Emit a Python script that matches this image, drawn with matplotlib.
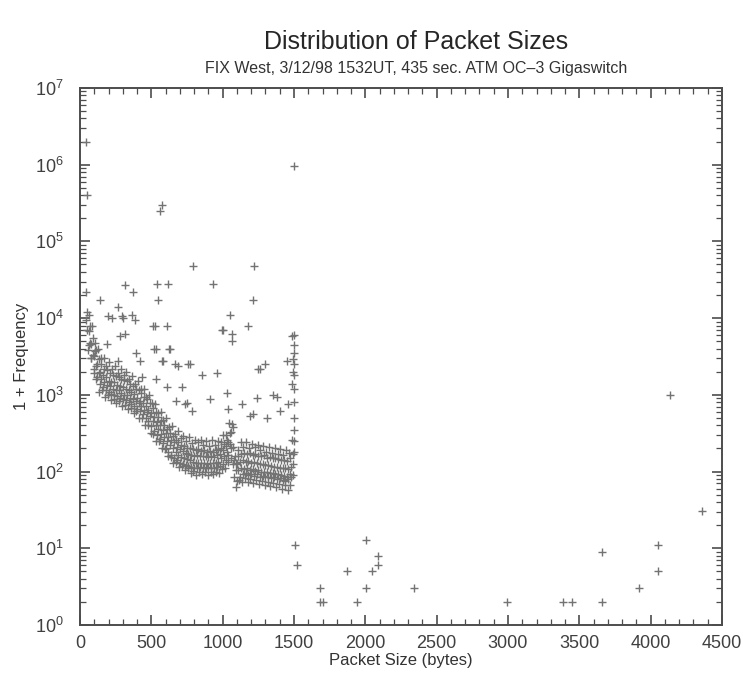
import numpy as np
import matplotlib
matplotlib.use('Agg')
import matplotlib.pyplot as plt
from matplotlib.ticker import LogLocator, MultipleLocator, LogFormatterMathtext

plt.rcParams['font.family'] = ['Liberation Sans', 'DejaVu Sans']
plt.rcParams['mathtext.fontset'] = 'custom'
plt.rcParams['mathtext.rm'] = 'Liberation Sans'

band_sizes = list(range(40, 1500, 10))
band_mid = [9500, 7000, 6800, 4800, 4600, 3300, 3200, 2400, 2500, 1900,
            2000, 1600, 1800, 1450, 1700, 1350, 1500, 1300, 1450, 1200,
            1450, 1150, 1350, 1150, 1300, 1050, 1250, 1000, 1200, 980,
            1150, 920, 1100, 880, 1020, 830, 920, 780, 840, 720,
            780, 640, 720, 590, 640, 530, 580, 450, 520, 410,
            440, 360, 410, 310, 350, 280, 320, 250, 280, 220,
            260, 200, 240, 180, 210, 165, 195, 155, 185, 150,
            175, 145, 170, 140, 165, 135, 160, 130, 165, 130,
            160, 128, 158, 130, 160, 125, 155, 130, 160, 128,
            155, 130, 162, 135, 170, 150, 190, 160, 215, 180,
            240, 230, 330, 210, 85, 105, 125, 105, 135, 110,
            140, 108, 135, 112, 138, 105, 130, 108, 135, 102,
            128, 104, 125, 100, 126, 98, 122, 100, 120, 95,
            118, 96, 116, 92, 115, 94, 112, 90, 110, 88,
            110, 86, 108, 92, 115, 125]

umid_sizes = list(range(50, 1500, 20))
band_umid = [12000, 8000, 5500, 3800, 2900, 2500, 2200, 2100, 1900, 1800,
             1750, 1700, 1600, 1550, 1500, 1400, 1300, 1200, 1150, 1050,
             950, 880, 780, 680, 600, 520, 460, 400, 360, 320,
             290, 260, 240, 225, 215, 205, 200, 195, 190, 195,
             185, 190, 180, 188, 182, 190, 195, 205, 230, 260,
             320, 380, 130, 160, 170, 175, 170, 172, 165, 170,
             160, 158, 162, 150, 155, 148, 150, 145, 140, 142,
             138, 150, 170]

lmid_sizes = list(range(60, 1500, 20))
band_lmid = [4500, 3000, 2200, 1700, 1400, 1250, 1150, 1080, 1020, 980,
             960, 920, 880, 850, 800, 760, 720, 660, 620, 560,
             500, 450, 390, 340, 300, 265, 235, 200, 180, 165,
             150, 140, 130, 125, 120, 118, 115, 112, 110, 115,
             112, 110, 115, 112, 110, 114, 118, 125, 140, 165,
             200, 140, 75, 85, 92, 95, 90, 94, 88, 92,
             86, 88, 84, 86, 82, 84, 80, 82, 78, 76,
             80, 85]

hi_sizes = list(range(45, 1500, 20))
band_hi = [22000, 11000, 8000, 4800, 4000, 3000, 3000, 2400, 2700, 2200,
           2400, 1950, 2200, 1800, 2000, 1600, 1750, 1400, 1500, 1200,
           1200, 950, 1000, 780, 760, 580, 600, 470, 500, 380,
           390, 310, 340, 270, 290, 250, 280, 235, 260, 240,
           260, 220, 250, 215, 255, 220, 250, 240, 300, 300,
           430, 420, 160, 190, 240, 210, 240, 205, 230, 210,
           220, 190, 215, 180, 210, 175, 200, 170, 195, 165,
           190, 175, 260]

lo_sizes = list(range(55, 1500, 20))
band_lo = [3800, 3000, 1900, 1600, 1100, 1150, 950, 1000, 860, 880,
           780, 820, 720, 740, 660, 680, 580, 610, 500, 500,
           410, 400, 320, 310, 250, 250, 200, 195, 160, 155,
           130, 135, 115, 118, 105, 110, 95, 102, 90, 98,
           92, 100, 90, 98, 92, 100, 96, 108, 110, 135,
           150, 125, 62, 78, 74, 82, 72, 80, 70, 78,
           68, 76, 66, 72, 64, 70, 62, 68, 60, 66,
           58, 66, 90]

# scattered sizes above the cloud and beyond 1500 bytes
out_sizes = [40, 52, 560, 576, 792, 1219, 1500, 932, 1213, 540,
             617, 315, 372, 545, 267, 140, 224, 301, 364, 526,
             610, 1051, 1002, 1065, 1068, 1177, 280, 531, 631, 420,
             582, 687, 771, 960, 855, 1297, 1261, 1450, 1486, 1030,
             1352, 1240, 911, 750, 1135, 1458, 1035, 1213, 1310, 1380,
             1402, 1191, 995, 1250, 736,
             196, 294, 385, 515, 318, 190, 520, 622, 390, 266,
             575, 666, 757, 434, 530, 612, 715, 670, 785, 105,
             1500, 1500, 1499, 1500, 1498, 1500, 1499, 1500, 1500, 1497, 1500,
             1492, 1494, 1488,
             1510, 1518, 1682, 1705, 1682, 1940, 1870, 2005, 2005, 2050,
             2088, 2088, 2340, 2990, 3385, 3447, 3657, 3657, 3918, 4050,
             4050, 4135, 4360]
out_freq = [2.0e6, 4.0e5, 2.5e5, 3.0e5, 4.8e4, 4.8e4, 9.5e5, 2.8e4, 1.7e4, 2.8e4,
            2.8e4, 2.7e4, 2.2e4, 1.7e4, 1.4e4, 1.7e4, 1.0e4, 1.0e4, 1.1e4, 8000,
            8000, 1.1e4, 7000, 6300, 5100, 7800, 5800, 4000, 3900, 2800,
            2800, 2400, 2500, 1900, 1800, 2500, 2200, 2800, 1400, 1050,
            1000, 900, 880, 780, 760, 760, 660, 570, 500, 950,
            620, 530, 7100, 2200, 760,
            1.07e4, 1.05e4, 9500, 7800, 6200, 4600, 4000, 4000, 3500, 2800,
            2800, 2500, 2500, 1700, 1600, 1250, 1250, 830, 620, 3700,
            6000, 4500, 3500, 2500, 1800, 1200, 800, 500, 350, 250, 180,
            2900, 2000, 5800,
            11, 6, 2, 2, 3, 2, 5, 13, 3, 5,
            6, 8, 3, 2, 2, 2, 2, 9, 3, 5,
            11, 1000, 31]

fig = plt.figure(figsize=(7.43, 6.75), dpi=100)
ax = fig.add_axes([0.1077, 0.0741, 0.864, 0.7956])

mk = dict(marker='+', linestyle='none', markersize=5.5, markeredgewidth=1.0, color='0.45')
ax.plot(band_sizes, band_mid, **mk)
ax.plot(umid_sizes, band_umid, **mk)
ax.plot(lmid_sizes, band_lmid, **mk)
ax.plot(hi_sizes, band_hi, **mk)
ax.plot(lo_sizes, band_lo, **mk)
ax.plot(out_sizes, out_freq, **mk)

ax.set_yscale('log')
ax.set_xlim(0, 4500)
ax.set_ylim(1, 1e7)
ax.xaxis.set_major_locator(MultipleLocator(500))
ax.xaxis.set_minor_locator(MultipleLocator(100))
ax.yaxis.set_major_locator(LogLocator(base=10, numticks=10))
ax.yaxis.set_minor_locator(LogLocator(base=10, subs=np.arange(2, 10), numticks=10))
ax.yaxis.set_major_formatter(LogFormatterMathtext())

for s in ax.spines.values():
    s.set_linewidth(1.4)
    s.set_color('0.3')
ax.tick_params(which='both', direction='in', top=True, right=True, color='0.3',
               labelsize=13, labelcolor='0.25')
ax.tick_params(which='major', length=7, width=1.2)
ax.tick_params(which='minor', length=4, width=0.9)
ax.tick_params(axis='x', which='major', pad=7)
ax.tick_params(axis='y', which='major', pad=12)

fig.text(0.56, 0.938, 'Distribution of Packet Sizes', ha='center', va='center',
         fontsize=18, color='0.15')
fig.text(0.56, 0.898, 'FIX West, 3/12/98 1532UT, 435 sec. ATM OC\u20133 Gigaswitch',
         ha='center', va='center', fontsize=11.5, color='0.2')
ax.set_xlabel('Packet Size (bytes)', fontsize=12, color='0.2', labelpad=1)
ax.set_ylabel('1 + Frequency', fontsize=12, color='0.2', labelpad=4)

fig.savefig('out.png', dpi=100)
